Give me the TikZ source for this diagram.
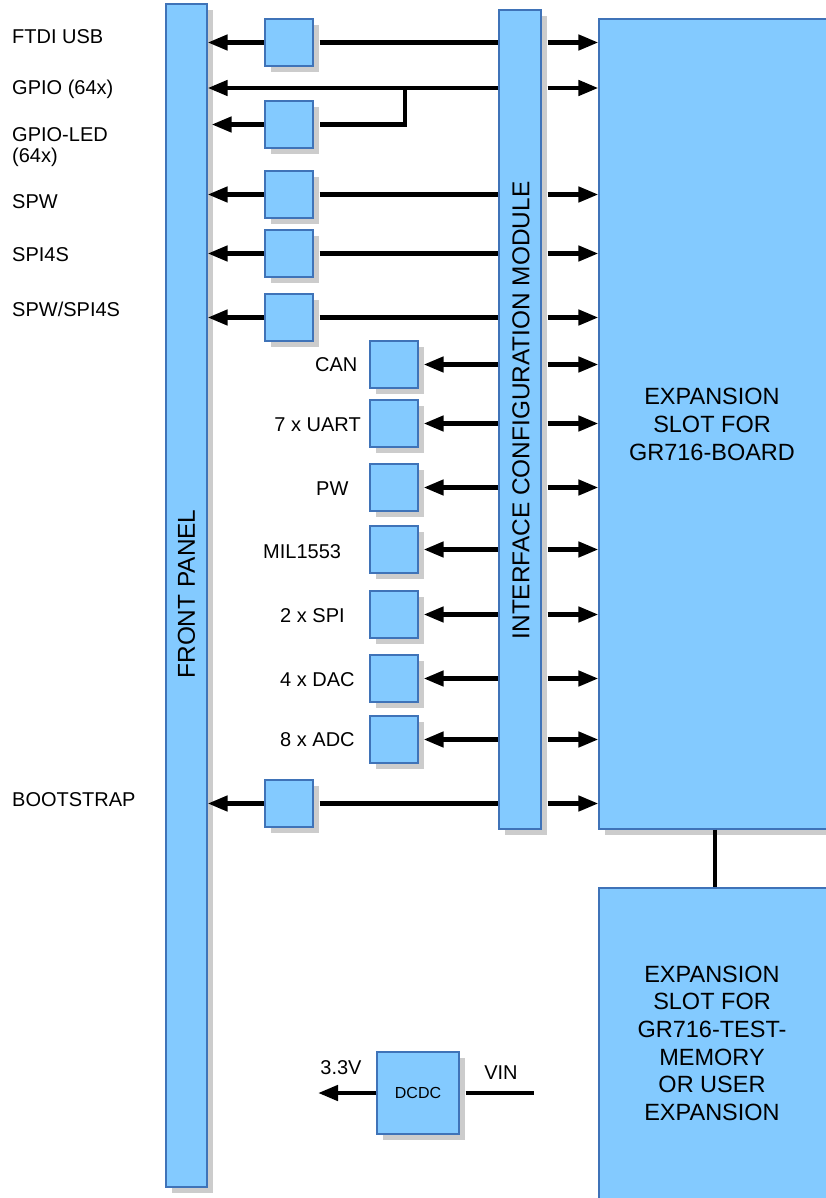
\documentclass[tikz,border=0pt]{standalone}
\usepackage{fontspec}
\setmainfont{Liberation Sans}
\usetikzlibrary{arrows.meta,shadows,calc}
\definecolor{boxfill}{HTML}{83CAFF}
\definecolor{boxdraw}{HTML}{3F73B8}
\definecolor{shadowgray}{HTML}{CCCCCC}
\begin{document}
\begin{tikzpicture}[x=1pt,y=-1pt,
  blk/.style={draw=boxdraw, line width=1.2pt, fill=boxfill, inner sep=0pt,
    drop shadow={shadow xshift=6pt, shadow yshift=-6pt, fill=shadowgray, opacity=1}},
  sq/.style={blk, minimum width=48pt, minimum height=47pt},
  lbl/.style={anchor=base west, inner sep=0pt, font=\fontsize{20pt}{24pt}\selectfont},
  lblr/.style={anchor=base east, inner sep=0pt, font=\fontsize{20pt}{24pt}\selectfont},
  lblc/.style={anchor=center, inner sep=0pt, font=\fontsize{20pt}{24pt}\selectfont},
  big/.style={inner sep=0pt, font=\fontsize{24.4pt}{28pt}\selectfont},
  exptxt/.style={inner sep=0pt, anchor=north, align=center, font=\fontsize{23.5pt}{27.6pt}\selectfont},
  conn/.style={line width=4.5pt},
  arr/.style={conn, -{Triangle[length=20pt,width=15pt]}},
]
\useasboundingbox (0,0) rectangle (826,1198);

% main blocks
\node[blk, minimum width=41pt, minimum height=1183pt] (fp) at (186.5,595.5) {};
\node[blk, minimum width=42pt, minimum height=819pt] (icm) at (520,419.5) {};
\node[blk, minimum width=241pt, minimum height=810pt] (exp1) at (719.5,424) {};
\node[blk, minimum width=241pt, minimum height=322pt] (exp2) at (719.5,1049) {};

\node[big, rotate=90] (fptxt) at (186.5,594) {FRONT PANEL};
\node[big, rotate=90] (icmtxt) at (521,410.5) {INTERFACE CONFIGURATION MODULE};
\node[exptxt] (exp1txt) at (712,388.3) {EXPANSION\\SLOT FOR\\GR716-BOARD};
\node[exptxt] (exp2txt) at (712,965.7) {EXPANSION\\ SLOT FOR\\GR716-TEST-\\MEMORY\\OR USER\\EXPANSION};

% column A boxes
\node[sq] (a1) at (289,42.5) {};
\node[sq] (a3) at (289,124.5) {};
\node[sq] (a4) at (289,194.5) {};
\node[sq] (a5) at (289,253.5) {};
\node[sq] (a6) at (289,317.5) {};
\node[sq] (a7) at (289,803.5) {};

% column B boxes
\node[sq] (b1) at (394,364.5) {};
\node[sq] (b2) at (394,423.5) {};
\node[sq] (b3) at (394,487.5) {};
\node[sq] (b4) at (394,549.5) {};
\node[sq] (b5) at (394,614.5) {};
\node[sq] (b6) at (394,678.5) {};
\node[sq] (b7) at (394,739.5) {};

% left labels
\node[lbl] (l1) at (12,43.3) {FTDI USB};
\node[lbl] (l2) at (12,95) {GPIO (64x)};
\node[lbl] (l3) at (12,141.7) {GPIO-LED};
\node[lbl] (l3b) at (12,163) {(64x)};
\node[lbl] (l4) at (12,208.3) {SPW};
\node[lbl] (l5) at (12,261.7) {SPI4S};
\node[lbl] (l6) at (12,316.7) {SPW/SPI4S};
\node[lbl] (l7) at (12,806.7) {BOOTSTRAP};

% column B labels
\node[lbl] (m1) at (315,371.7) {CAN};
\node[lblr] (m2) at (361,431.7) {7 x UART};
\node[lbl] (m3) at (316,495.7) {PW};
\node[lbl] (m4) at (263,558.3) {MIL1553};
\node[lbl] (m5) at (280,622.7) {2 x SPI};
\node[lbl] (m6) at (280,686.7) {4 x DAC};
\node[lbl] (m7) at (280,746.7) {8 x ADC};

% column A connectors
\foreach \n in {a1,a4,a5,a6,a7} {
  \draw[arr] (\n.west) -- (\n.west -| fp.east);
  \draw[conn] ($(\n.east)+(6,0)$) -- (\n.east -| icm.west);
  \draw[arr] ($(\n.east -| icm.east)+(6,0)$) -- (\n.east -| exp1.west);
}

% GPIO
\coordinate (gp) at (405,88);
\draw[arr] (gp -| icm.west) -- (gp -| fp.east);
\draw[arr] ($(gp -| icm.east)+(6,0)$) -- (gp -| exp1.west);
\draw[conn] (gp) |- ($(a3.east)+(6,0)$);
\draw[arr] (a3.west) -- ($(a3.west -| fp.east)+(4,0)$);

% column B connectors
\foreach \n in {b1,b2,b3,b4,b5,b6,b7} {
  \draw[arr] (\n.east -| icm.west) -- ($(\n.east)+(5,0)$);
  \draw[arr] ($(\n.east -| icm.east)+(6,0)$) -- (\n.east -| exp1.west);
}

% expansion link
\coordinate (vx) at (715,0);
\draw[conn] (exp1.south -| vx) -- (exp2.north -| vx);

% DCDC
\node[blk, minimum width=82pt, minimum height=82pt, font=\fontsize{16pt}{19pt}\selectfont] (dc) at (418,1093) {DCDC};
\coordinate (v33) at (318,1092);
\coordinate (vin) at (534,1092);
\draw[arr] (dc.west) -- (dc.west -| v33);
\draw[conn] ($(dc.east)+(6,0)$) -- (dc.east -| vin);
\node[lblc] (t33) at (341,1068) {3.3V};
\node[lblc] (tvin) at (501,1073) {VIN};
\end{tikzpicture}
\end{document}
